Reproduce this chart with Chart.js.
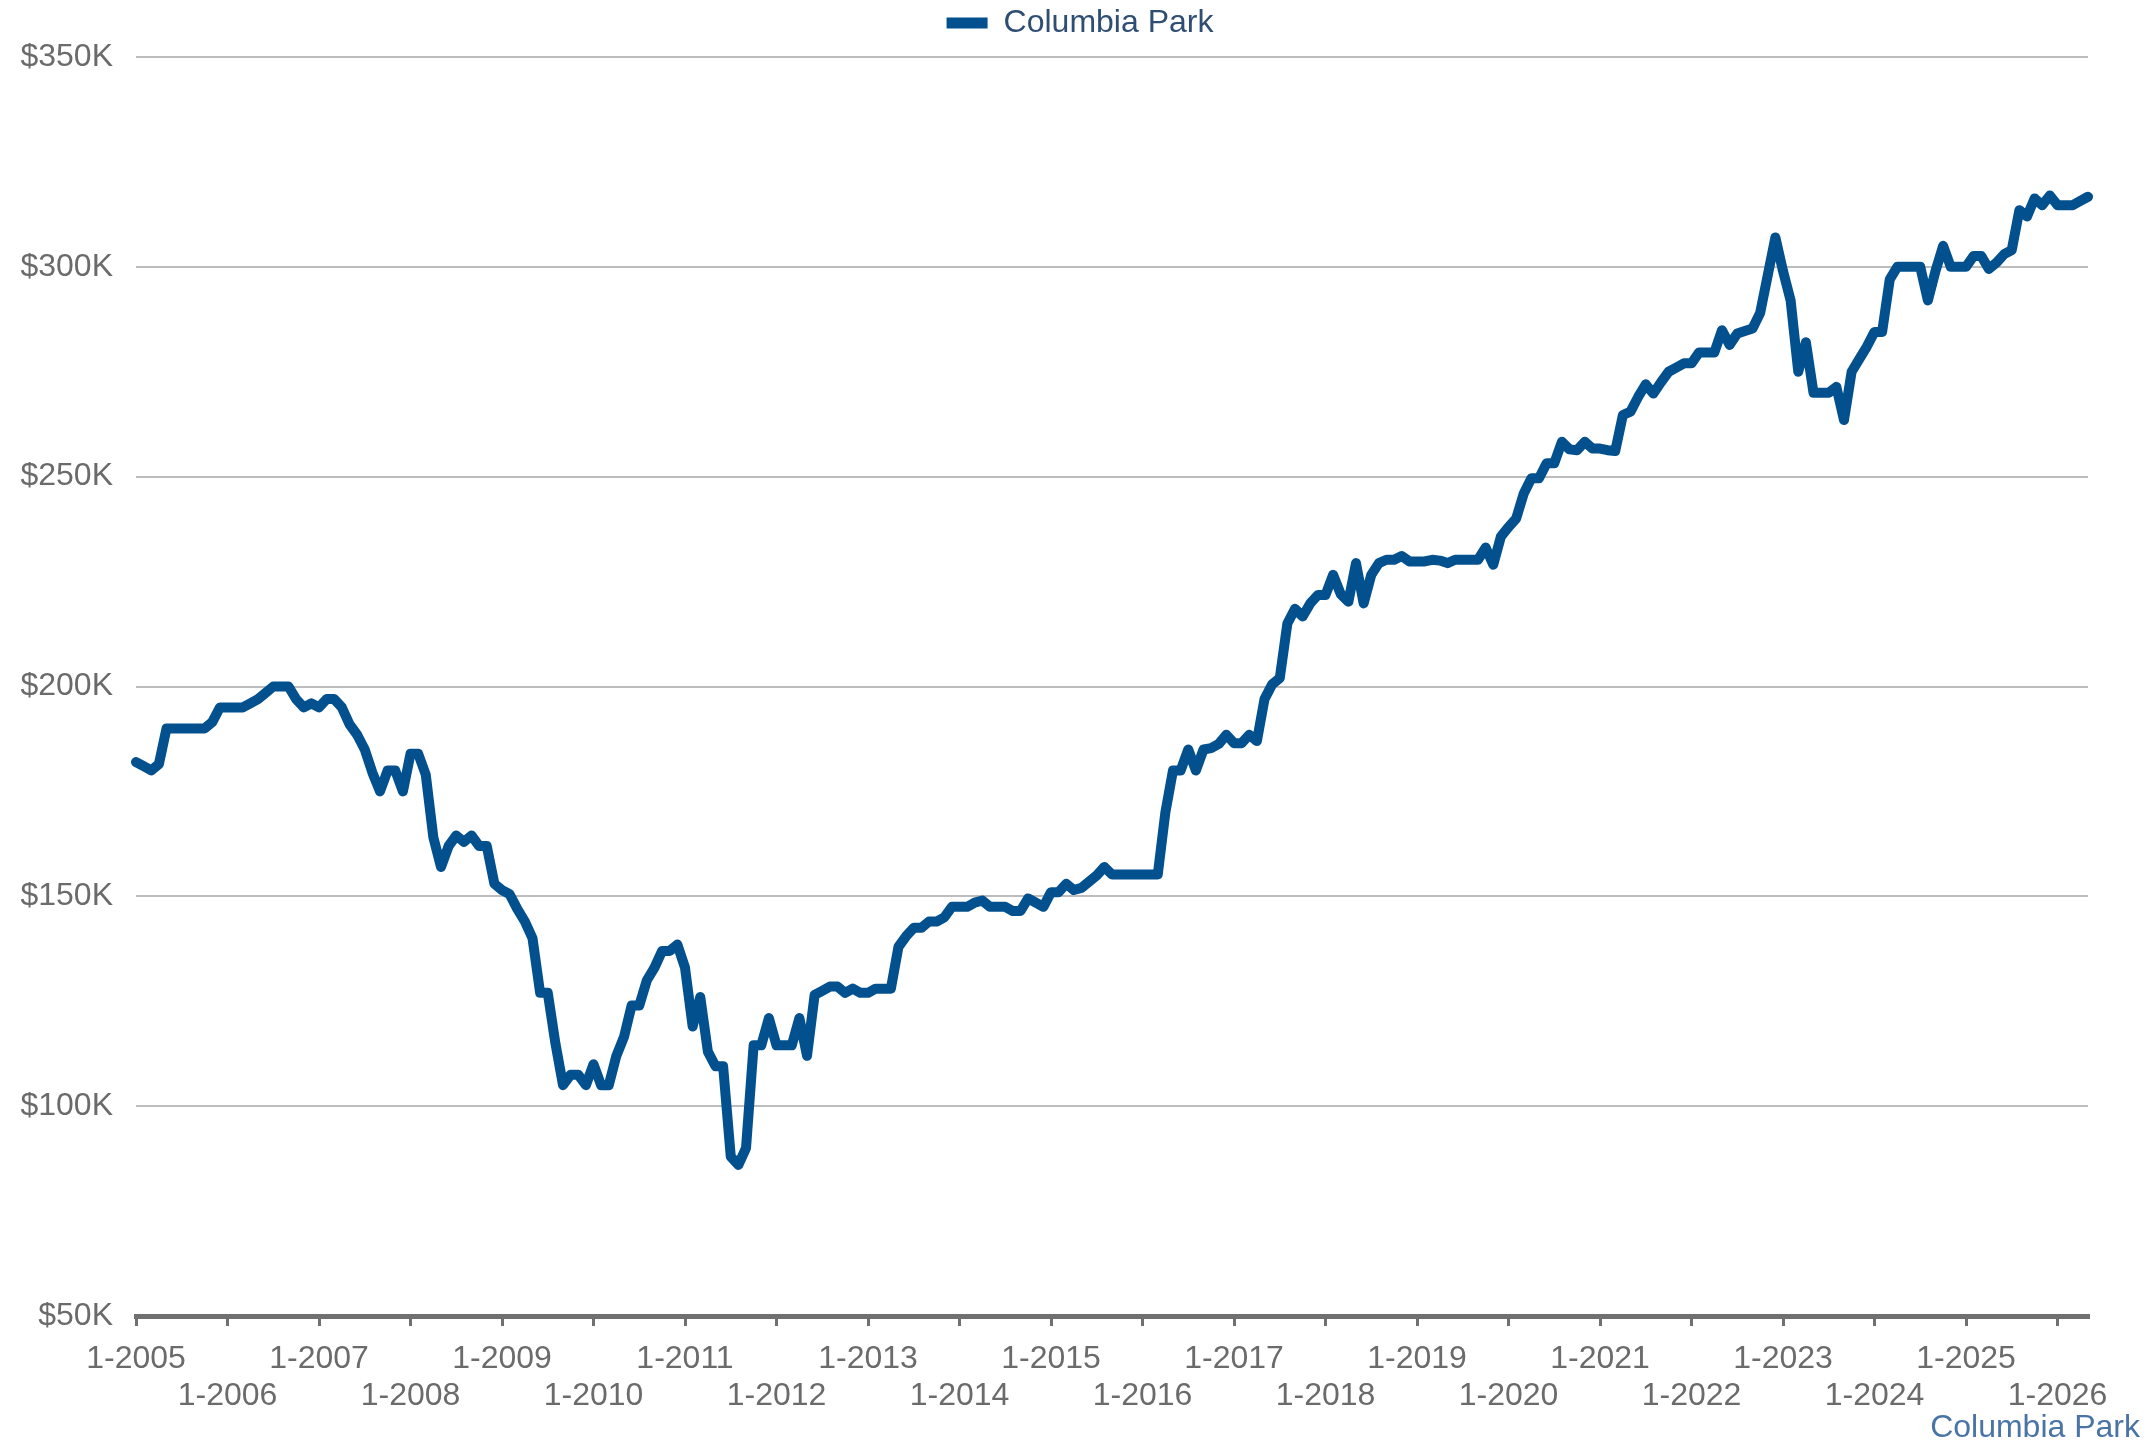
<!DOCTYPE html>
<html>
<head>
<meta charset="utf-8">
<script src="https://cdn.jsdelivr.net/npm/chart.js@4/dist/chart.umd.min.js"></script>
<style>
html,body{margin:0;padding:0;background:#fff;}
canvas{display:block;}
</style>
</head>
<body>
<canvas id="c" width="2154" height="1447"></canvas>
<script>
// Series name
const seriesName = 'Columbia Park';
// Categories: monthly, 1-2005 through 5-2026
const startYear = 2005;
const endYear = 2026;
const endMonth = 5;
const categories = [];
for (let y = startYear; y <= endYear; y++) {
  for (let m = 1; m <= 12; m++) {
    if (y === endYear && m > endMonth) break;
    categories.push(m + '-' + y);
  }
}
// Median price, in $K, one value per month
const medianPrice = [
  182, 181, 180, 181.5, 190, 190, 190, 190, 190, 190, 191.5, 195,
  195, 195, 195, 196, 197, 198.5, 200, 200, 200, 197, 195, 196,
  195, 197, 197, 195, 191, 188.5, 185, 179.5, 175, 180, 180, 175,
  184, 184, 179, 164, 157, 162, 164.5, 163, 164.5, 162, 162, 153,
  151.5, 150.5, 147, 144, 140, 127, 127, 115, 105, 107.5, 107.5, 105,
  110, 105, 105, 112, 116.5, 124, 124, 130, 133, 137, 137, 138.5,
  133, 119, 126, 113, 109.5, 109.5, 88, 86, 90, 114.5, 114.5, 121,
  114.5, 114.5, 114.5, 121, 112, 126.5, 127.5, 128.5, 128.5, 127, 128, 127,
  127, 128, 128, 128, 138, 140.5, 142.5, 142.5, 144, 144, 145, 147.5,
  147.5, 147.5, 148.5, 149, 147.5, 147.5, 147.5, 146.5, 146.5, 149.5, 148.5, 147.5,
  151, 151, 153, 151.5, 152, 153.5, 155, 157, 155.2, 155.2, 155.2, 155.2,
  155.2, 155.2, 155.2, 170, 180, 180, 185, 180, 185, 185.3, 186.3, 188.5,
  186.5, 186.5, 188.5, 187, 197, 200.5, 202, 215, 218.5, 216.7, 219.8, 221.8,
  221.8, 226.6, 222, 220.2, 229.4, 219.8, 226.6, 229.4, 230.2, 230.2, 231.1, 229.8,
  229.8, 229.8, 230.2, 230, 229.4, 230.2, 230.2, 230.2, 230.2, 233.1, 229, 235.7,
  238, 240, 246, 249.6, 249.6, 253.2, 253.2, 258.3, 256.5, 256.3, 258.3, 256.7,
  256.7, 256.3, 256.1, 264.7, 265.5, 269, 272, 269.8, 272.5, 275, 276, 277,
  277, 279.6, 279.6, 279.6, 284.9, 281.4, 284.1, 284.7, 285.3, 289, 298, 307,
  299, 292, 275, 282, 270, 270, 270, 271.4, 263.5, 275, 278, 281,
  284.5, 284.5, 297, 300, 300, 300, 300, 292, 299, 305, 300, 300,
  300, 302.6, 302.6, 299.5, 301, 303, 304, 313.5, 312, 316.3, 314.7, 317,
  314.7, 314.7, 314.7, 315.7, 316.7
];
// Y tick values ($K)
const yMin = 50, yMax = 350, yStep = 50;

const FONT = "'Liberation Sans', Arial, sans-serif";
const lineColor = '#03508F';
const axisText = '#6B6B6B';

const legendSpacer = {
  id: 'legendSpacer',
  beforeInit(chart) {
    const origFit = chart.legend.fit;
    chart.legend.fit = function () {
      origFit.call(this);
      this.height += 8;
    };
  }
};

new Chart(document.getElementById('c'), {
  type: 'line',
  data: {
    labels: categories,
    datasets: [{
      label: seriesName,
      data: medianPrice,
      borderColor: lineColor,
      backgroundColor: lineColor,
      borderWidth: 10,
      pointRadius: 0,
      tension: 0,
      borderJoinStyle: 'round',
      borderCapStyle: 'round',
      fill: false
    }]
  },
  plugins: [legendSpacer],
  options: {
    responsive: false,
    animation: false,
    devicePixelRatio: 1,
    layout: { padding: { left: 20, right: 14, top: 0, bottom: 0 } },
    plugins: {
      legend: {
        display: true,
        position: 'top',
        align: 'center',
        labels: {
          boxWidth: 41,
          boxHeight: 11,
          padding: 7,
          color: '#2E4E73',
          font: { family: FONT, size: 32 },
          generateLabels: function (chart) {
            const items = Chart.defaults.plugins.legend.labels.generateLabels(chart);
            items.forEach(function (it) { it.lineWidth = 0; it.fillStyle = lineColor; });
            return items;
          }
        }
      },
      title: {
        display: true,
        text: seriesName,
        position: 'bottom',
        align: 'end',
        color: '#4A74A6',
        padding: 0,
        font: { family: FONT, size: 32, weight: 'normal', lineHeight: 1.2 }
      },
      tooltip: { enabled: false }
    },
    scales: {
      x: {
        type: 'category',
        offset: false,
        grid: {
          display: true,
          drawOnChartArea: false,
          drawTicks: true,
          tickLength: 10,
          color: '#707070',
          lineWidth: 3
        },
        border: { display: true, color: '#707070', width: 5 },
        ticks: {
          autoSkip: false,
          maxRotation: 0,
          minRotation: 0,
          padding: 14,
          color: axisText,
          font: { family: FONT, size: 32, lineHeight: 1.17 },
          callback: function (val, idx) {
            if (idx % 12 !== 0) return null;
            const lab = categories[idx];
            return ((idx / 12) % 2 === 0) ? lab : ['', lab];
          }
        },
        afterFit: function (s) { s.height = 92.6; }
      },
      y: {
        min: yMin,
        max: yMax,
        grid: {
          color: '#BDBDBD',
          lineWidth: 2,
          drawTicks: false
        },
        border: { display: false },
        ticks: {
          stepSize: yStep,
          padding: 23,
          color: axisText,
          font: { family: FONT, size: 32 },
          callback: function (v) { return '$' + v + 'K'; }
        },
        afterFit: function (s) { s.width = 116; }
      },
      yR: {
        position: 'right',
        display: true,
        grid: { display: false },
        border: { display: false },
        ticks: { display: false },
        afterFit: function (s) { s.width = 52; }
      }
    }
  }
});
</script>
</body>
</html>
